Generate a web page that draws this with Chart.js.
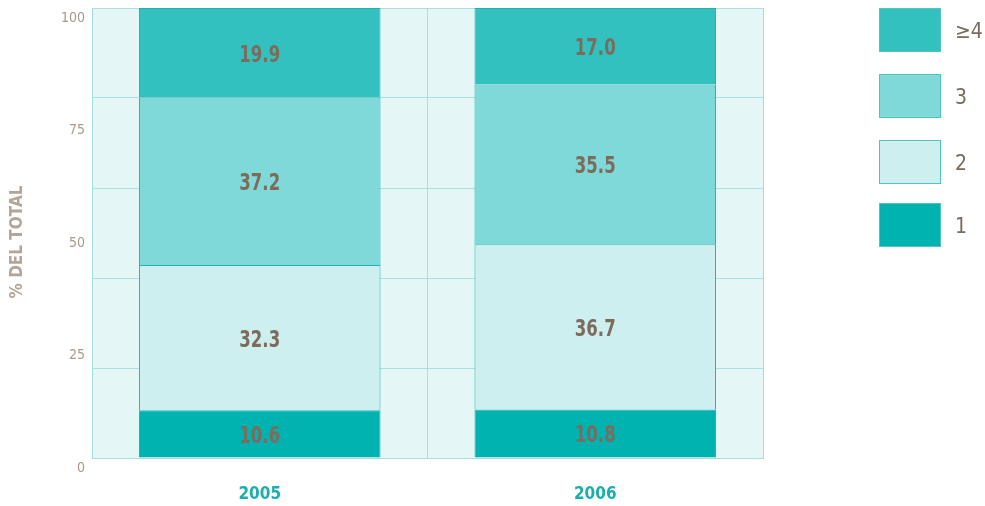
<!DOCTYPE html>
<html>
<head>
<meta charset="utf-8">
<script src="https://cdn.jsdelivr.net/npm/chart.js@4"></script>
<style>
  body { margin: 0; background: #fff; }
  #wrap { position: relative; width: 985px; height: 506px; }
  .leg { position: absolute; left: 879px; width: 60px; height: 42px; border: 1px solid #4fc4c2; }
  .legtxt { position: absolute; left: 955px; font: 21px "DejaVu Sans Condensed", sans-serif; color: #7a6a5a; line-height: 46px; }
</style>
</head>
<body>
<div id="wrap">
  <canvas id="c"></canvas>
</div>
<script>
const years = ['2005', '2006']
const seriesNames = ['1', '2', '3', '\u22654']
const one = [10.6, 10.8]
const two = [32.3, 36.7]
const three = [37.2, 35.5]
const fourPlus = [19.9, 17.0]
const yTicks = [0, 25, 50, 75, 100]

const colors = ['#00b2b0', '#cdefef', '#80d9d9', '#33c1bf']
const gridColor = '#a6e0df'
const narrow = '"DejaVu Sans Condensed", sans-serif'

// legend, top item first like the picture
const wrap = document.getElementById('wrap')
const legTops = [203, 140, 74, 8]
seriesNames.forEach((name, i) => {
    const box = document.createElement('div')
    box.className = 'leg'
    box.style.top = legTops[i] + 'px'
    box.style.background = colors[i]
    wrap.appendChild(box)
    const txt = document.createElement('div')
    txt.className = 'legtxt'
    txt.style.top = legTops[i] + 'px'
    txt.textContent = name
    wrap.appendChild(txt)
})

const plotBg = {
    id: 'plotBg',
    beforeDraw(chart) {
        const {ctx, chartArea: a} = chart
        ctx.save()
        ctx.fillStyle = '#e5f6f6'
        ctx.fillRect(a.left, a.top, a.right - a.left, a.bottom - a.top)
        ctx.restore()
    },
    afterDraw(chart) {
        // axis title, sits a bit below the middle in the original
        const ctx = chart.ctx
        ctx.save()
        ctx.translate(18, 242)
        ctx.rotate(-Math.PI / 2)
        ctx.font = 'bold 17px ' + narrow
        ctx.fillStyle = '#b3a699'
        ctx.textAlign = 'center'
        ctx.textBaseline = 'middle'
        ctx.fillText('% DEL TOTAL', 0, 0)
        ctx.restore()
    }
}

const valueLabels = {
    id: 'valueLabels',
    afterDatasetsDraw(chart) {
        const ctx = chart.ctx
        ctx.save()
        ctx.font = 'bold 23px ' + narrow
        ctx.fillStyle = '#7d6b5b'
        ctx.textAlign = 'center'
        ctx.textBaseline = 'middle'
        chart.data.datasets.forEach((ds, i) => {
            chart.getDatasetMeta(i).data.forEach((bar, j) => {
                const p = bar.getCenterPoint()
                ctx.save()
                ctx.translate(p.x, p.y + 3)
                ctx.scale(0.8, 1)
                ctx.fillText(ds.data[j].toFixed(1), 0, 0)
                ctx.restore()
            })
        })
        ctx.restore()
    }
}

const values = [one, two, three, fourPlus]

new Chart(document.getElementById('c'), {
    type: 'bar',
    data: {
        labels: years,
        datasets: values.map((v, i) => ({
            label: seriesNames[i],
            data: v,
            backgroundColor: colors[i],
            borderColor: '#22b3b1',
            borderWidth: 1,
            categoryPercentage: 1,
            barPercentage: 0.72
        }))
    },
    options: {
        responsive: true,
        maintainAspectRatio: false,
        animation: false,
        layout: { autoPadding: false, padding: { top: 8, right: 222, left: 0, bottom: 0 } },
        plugins: {
            legend: { display: false },
            tooltip: { enabled: false }
        },
        scales: {
            x: {
                stacked: true,
                grid: { color: gridColor, drawTicks: false },
                border: { color: gridColor },
                ticks: {
                    color: '#1aaeae',
                    padding: 26,
                    font: { family: narrow, size: 17, weight: 'bold' }
                },
                afterFit(s) {
                    s.height = 48
                    s.paddingLeft = 0
                    s.paddingRight = 0
                }
            },
            y: {
                stacked: true,
                min: 0,
                max: 100,
                afterBuildTicks(s) {
                    const t = []
                    for (let v = 0; v <= 100; v += 5) t.push({value: v})
                    s.ticks = t
                },
                grid: {
                    drawTicks: false,
                    color: c => (c.tick && c.tick.value % 20 === 0) ? gridColor : 'rgba(0,0,0,0)'
                },
                border: { color: gridColor },
                ticks: {
                    autoSkip: false,
                    color: '#a89a8c',
                    padding: 7,
                    labelOffset: 10,
                    font: { family: narrow, size: 14 },
                    callback: v => yTicks.includes(v) ? String(v) : ''
                },
                afterFit(s) {
                    s.width = 92
                    s.paddingTop = 0
                    s.paddingBottom = 0
                }
            }
        }
    },
    plugins: [plotBg, valueLabels]
})
</script>
</body>
</html>
